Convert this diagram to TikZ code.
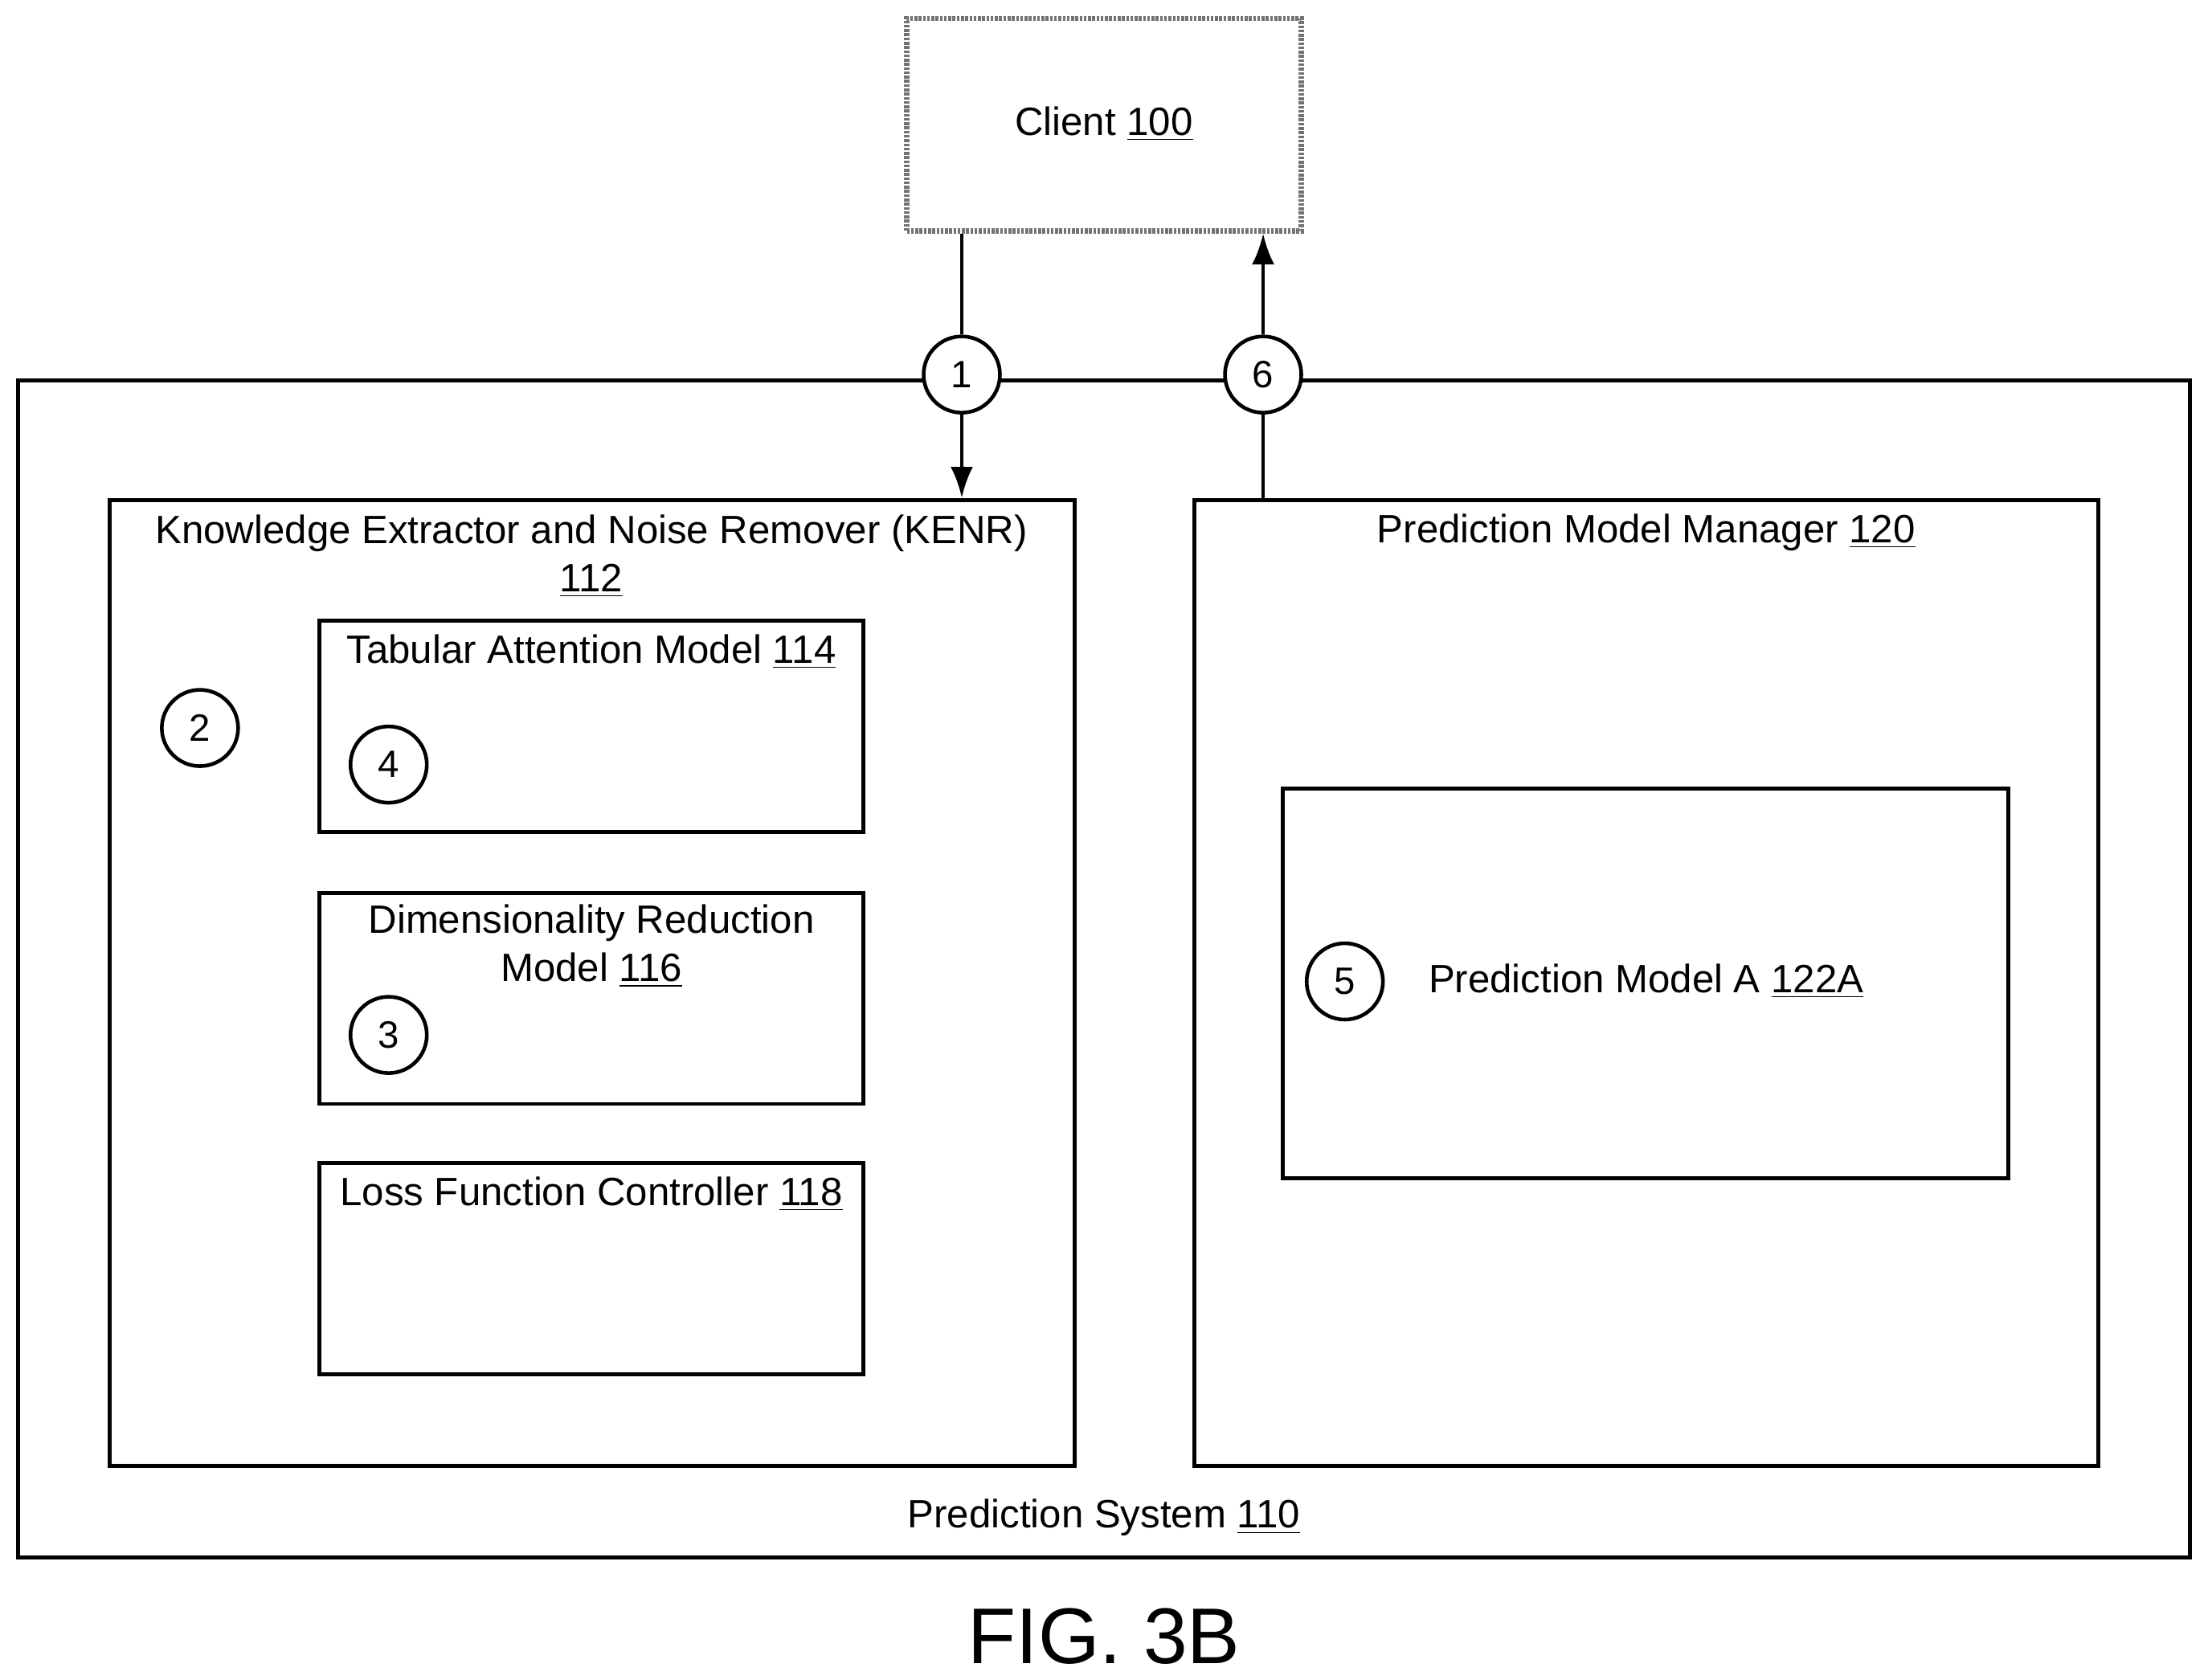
\documentclass[tikz,border=0pt]{standalone}
\usepackage{fontspec}
\setmainfont{Liberation Sans}
\usetikzlibrary{arrows.meta,fit}
\newcommand{\refnum}[1]{\underline{#1}}
\begin{document}
\begin{tikzpicture}[x=0.017526cm,y=-0.017526cm,
	box/.style={draw,line width=1.4pt,inner sep=0pt},
	step node/.style={circle,draw,fill=white,line width=1.3pt,minimum size=0.95cm,inner sep=0pt,font=\fontsize{13.5}{15}\selectfont},
	label/.style={font=\fontsize{14}{17}\selectfont,align=center},
	flow/.style={line width=1.3pt,-{Latex[length=11pt,width=8pt]}}]
	\useasboundingbox (0,0) rectangle (1568,1193);
	
	\node[box,draw=black!55,line width=1.8pt,dash pattern=on 1pt off 0.5pt,fit={(644,13) (924,164)}] (client) {};
	\node[label] at (784,88) {Client \refnum{100}};
	
	\node[box,fit={(13,270) (1555,1106)}] (system) {};
	\node[label] at (784,1078) {Prediction System \refnum{110}};
	
	\node[box,fit={(78,355) (763,1041)}] (kenr) {};
	\node[label] at (420,395) {Knowledge Extractor and Noise Remover (KENR)\\\refnum{112}};
	\node[box,fit={(227,441) (613,591)}] (tam) {};
	\node[label] at (420,463) {Tabular Attention Model \refnum{114}};
	\node[box,fit={(227,634) (613,784)}] (drm) {};
	\node[label] at (420,672) {Dimensionality Reduction\\Model \refnum{116}};
	\node[box,fit={(227,826) (613,976)}] (lfc) {};
	\node[label] at (420,848) {Loss Function Controller \refnum{118}};
	
	\node[box,fit={(848,355) (1490,1041)}] (pmm) {};
	\node[label] at (1169,378) {Prediction Model Manager \refnum{120}};
	\node[box,fit={(911,560) (1426,837)}] (pma) {};
	\node[label] at (1169,697) {Prediction Model A \refnum{122A}};
	
	\node[step node] (s1) at (683,266) {1};
	\node[step node] (s2) at (142,517) {2};
	\node[step node] (s3) at (276,735) {3};
	\node[step node] (s4) at (276,543) {4};
	\node[step node] (s5) at (955,697) {5};
	\node[step node] (s6) at (897,266) {6};
	
	\draw[line width=1.3pt] (client.south -| s1) -- (s1);
	\draw[flow] (s1) -- (kenr.north -| s1);
	\draw[line width=1.3pt] (pmm.north -| s6) -- (s6);
	\draw[flow] (s6) -- (client.south -| s6);
	
	\node[font=\fontsize{28}{32}\selectfont] at (784,1162) {FIG. 3B};
\end{tikzpicture}
\end{document}
